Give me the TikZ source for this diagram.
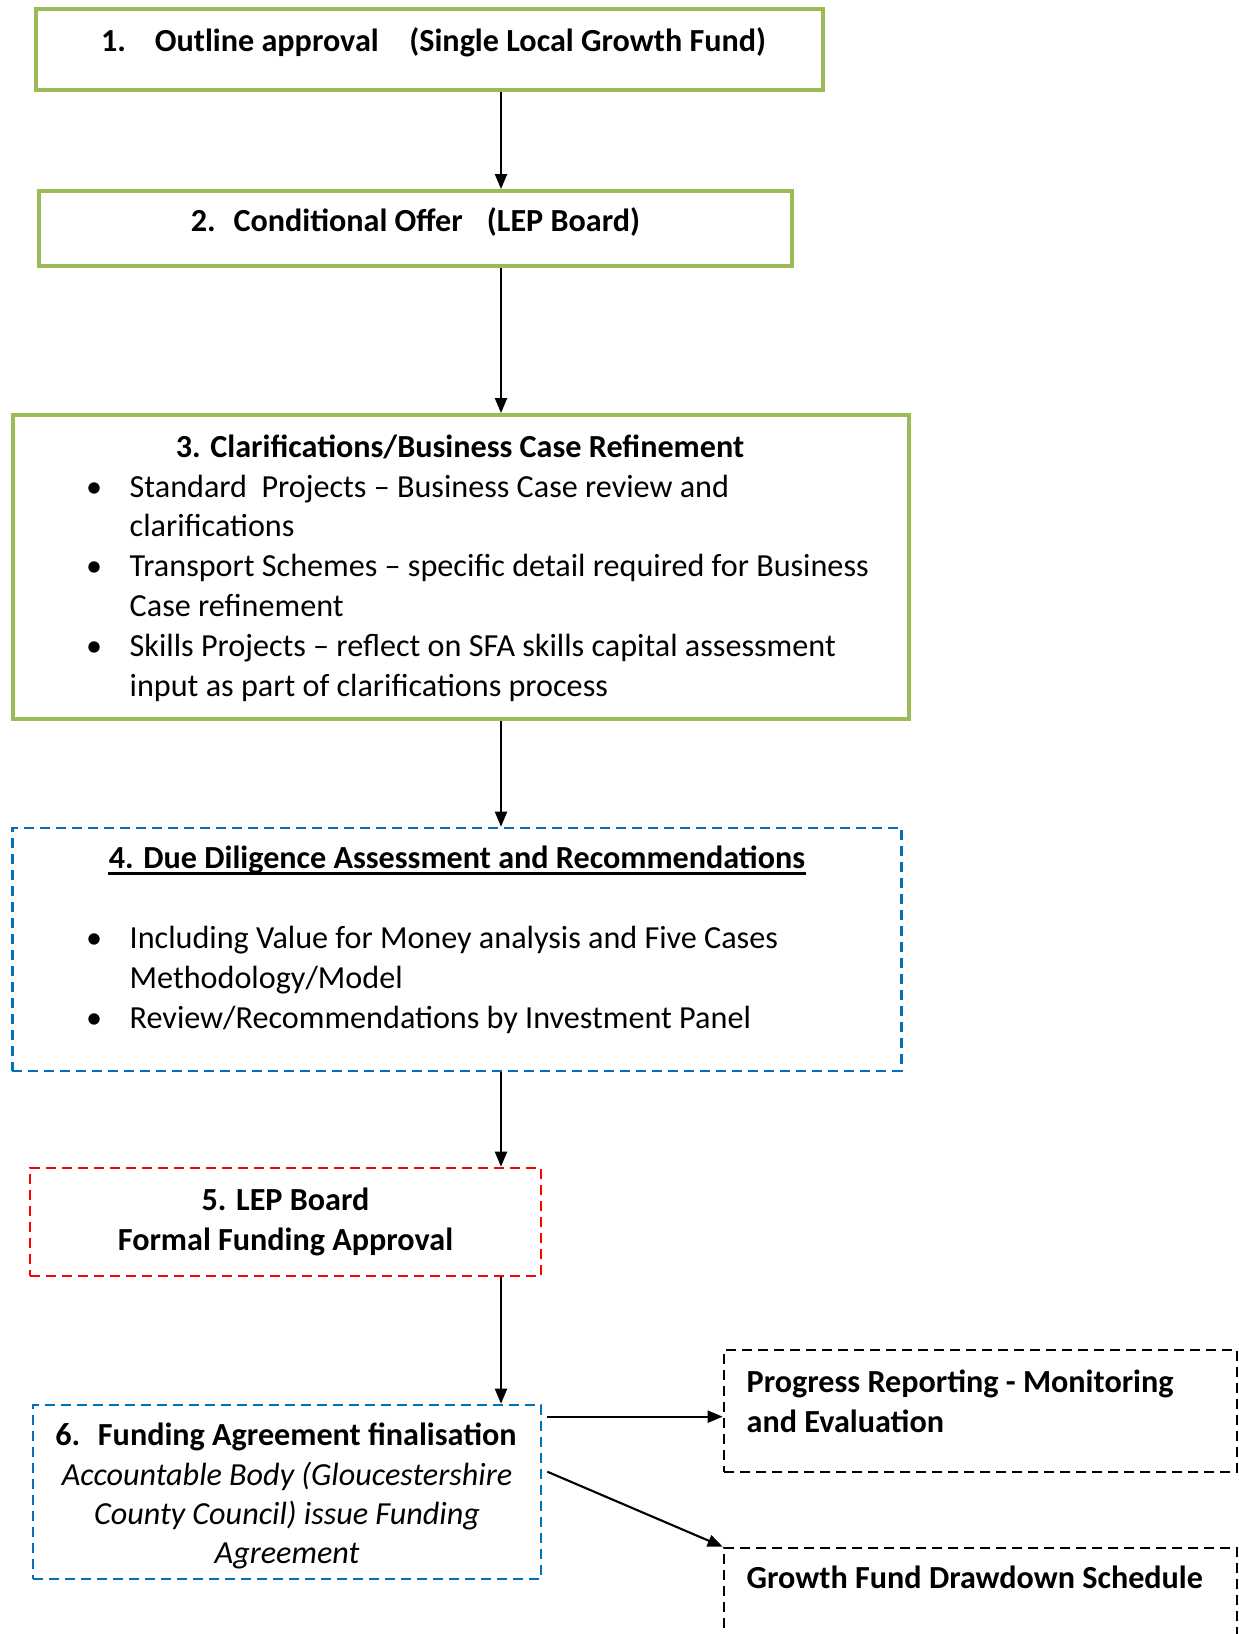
\documentclass[tikz,border=0pt]{standalone}
\usepackage{fontspec}
\setmainfont{Carlito}
\usetikzlibrary{arrows.meta,calc}

\definecolor{stepgreen}{HTML}{9BBB59}
\definecolor{stepblue}{HTML}{0070C0}
\definecolor{stepred}{HTML}{FF0000}

\begin{document}
\begin{tikzpicture}[
    y=-1cm,
    font=\fontsize{9.15}{11.38}\selectfont,
    box/.style={rectangle, draw=stepgreen, line width=1.1pt, inner sep=0pt},
    dashbox/.style={rectangle, draw, line width=0.75pt, dash pattern=on 0.1cm off 0.06cm, inner sep=0pt},
    title/.style={font=\fontsize{9.15}{11.38}\selectfont\bfseries, anchor=base, inner sep=0pt},
    list/.style={anchor=base west, inner sep=0pt},
    arrow/.style={-{Triangle[length=0.15cm, width=0.12cm]}, line width=0.6pt}
]
\useasboundingbox (0,0) rectangle (12.39,16.34);
\clip (0,0) rectangle (12.39,16.34);

\coordinate (spine) at (5.01,0);

% stage 1
\node[box, minimum width=7.87cm, minimum height=0.81cm] (outline) at (4.295,0.495) {};
\node[title] (outlinetext) at (4.335,0.517) {1.\hspace{0.9em}Outline approval\hspace{0.95em}(Single Local Growth Fund)};

% stage 2
\node[box, minimum width=7.53cm, minimum height=0.75cm] (offer) at (4.155,2.285) {};
\node[title] (offertext) at (4.155,2.317) {2.\hspace{0.55em}Conditional Offer\hspace{0.75em}(LEP Board)};

% stage 3
\node[box, minimum width=8.965cm, minimum height=3.04cm] (clarify) at (4.61,5.67) {};
\node[title] (clarifytitle) at (4.60,4.57) {3. Clarifications/Business Case Refinement};
\node[list] (clarifylist) at (0.855,4.97) {\begin{tabular}[t]{@{}p{0.435cm}@{}l@{}}
\textbullet & Standard\ \ Projects -- Business Case review and\\
 & clarifications\\
\textbullet & Transport Schemes -- specific detail required for Business\\
 & Case refinement\\
\textbullet & Skills Projects -- reflect on SFA skills capital assessment\\
 & input as part of clarifications process
\end{tabular}};

% stage 4
\node[dashbox, draw=stepblue, minimum width=8.895cm, minimum height=2.43cm] (diligence) at (4.57,9.495) {};
\node[title] (diligencetitle) at (4.57,8.68) {4. Due Diligence Assessment and Recommendations};
\draw[line width=0.7pt] ([yshift=-1.6pt]diligencetitle.base west) -- ([yshift=-1.6pt]diligencetitle.base east);
\node[list] (diligencelist) at (0.855,9.48) {\begin{tabular}[t]{@{}p{0.435cm}@{}l@{}}
\textbullet & Including Value for Money analysis and Five Cases\\
 & Methodology/Model\\
\textbullet & Review/Recommendations by Investment Panel
\end{tabular}};

% stage 5
\node[dashbox, draw=stepred, minimum width=5.11cm, minimum height=1.08cm] (board) at (2.855,12.22) {};
\node[title] (boardtext) at (2.855,12.10) {\begin{tabular}[t]{@{}c@{}}5. LEP Board\\Formal Funding Approval\end{tabular}};

% stage 6
\node[dashbox, draw=stepblue, minimum width=5.08cm, minimum height=1.74cm] (funding) at (2.87,14.92) {};
\node[title] (fundingtitle) at (2.86,14.45) {6.\hspace{0.55em}Funding Agreement finalisation};
\node[title, font=\fontsize{9.15}{11.1}\selectfont\itshape] (fundingtext) at (2.87,14.85) {\begin{tabular}[t]{@{}c@{}}Accountable Body (Gloucestershire\\County Council) issue Funding\\Agreement\end{tabular}};

% follow-up
\node[dashbox, minimum width=5.13cm, minimum height=1.22cm] (progress) at (9.805,14.11) {};
\node[title, anchor=base west] (progresstext) at (7.46,13.92) {\begin{tabular}[t]{@{}l@{}}Progress Reporting - Monitoring\\and Evaluation\end{tabular}};
\node[dashbox, minimum width=5.13cm, minimum height=1.52cm] (drawdown) at (9.805,16.24) {};
\node[title, anchor=base west] (drawdowntext) at (7.46,15.88) {Growth Fund Drawdown Schedule};

\draw[arrow] (outline.south -| spine) -- (offer.north -| spine);
\draw[arrow] (offer.south -| spine) -- (clarify.north -| spine);
\draw[arrow] (clarify.south -| spine) -- (diligence.north -| spine);
\draw[arrow] (diligence.south -| spine) -- (board.north -| spine);
\draw[arrow] (board.south -| spine) -- (funding.north -| spine);
\draw[arrow] ($(funding.north east)+(0.05,0.13)$) -- (progress.west |- {$(funding.north east)+(0.05,0.13)$});
\draw[arrow] ($(funding.north east)+(0.05,0.68)$) -- (drawdown.north west);

\end{tikzpicture}
\end{document}
